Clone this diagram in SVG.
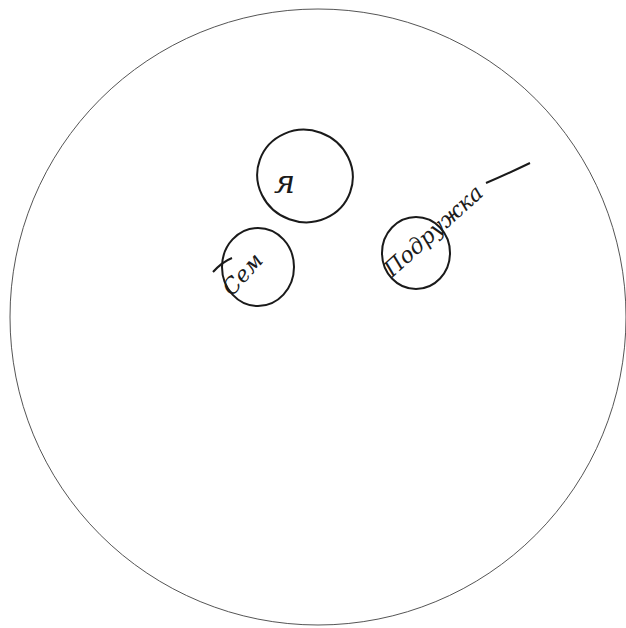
<svg xmlns="http://www.w3.org/2000/svg" width="626" height="628" viewBox="0 0 626 628">
<style>
.o{fill:none;stroke:#1a1a1a;stroke-width:2}
.big{fill:none;stroke:#555;stroke-width:1}
.t{font-family:"DejaVu Serif","Liberation Serif",serif;font-style:italic;fill:#1a1a1a}
</style>
<rect width="626" height="628" fill="#fff"/>
<circle class="big" cx="318" cy="317" r="308"/>
<g id="node-ya">
<ellipse class="o" cx="305" cy="176" rx="48" ry="46" transform="rotate(20 305 176)"/>
<text class="t" x="274" y="193" font-size="32">я</text>
</g>
<g id="node-sem">
<ellipse class="o" cx="258" cy="267" rx="36" ry="39"/>
<text class="t" font-size="22" transform="translate(232,297) rotate(-48)">Сем</text>
</g>
<g id="node-podruzhka">
<ellipse class="o" cx="416" cy="253" rx="34" ry="36"/>
<text class="t" font-size="22" transform="translate(392,278) rotate(-42)">Подружка</text>
</g>
<g id="connectors">
<path class="o" d="M486,183 Q505,175 530,163"/>
<path class="o" d="M213,272 Q222,262 232,258"/>
</g>
</svg>
